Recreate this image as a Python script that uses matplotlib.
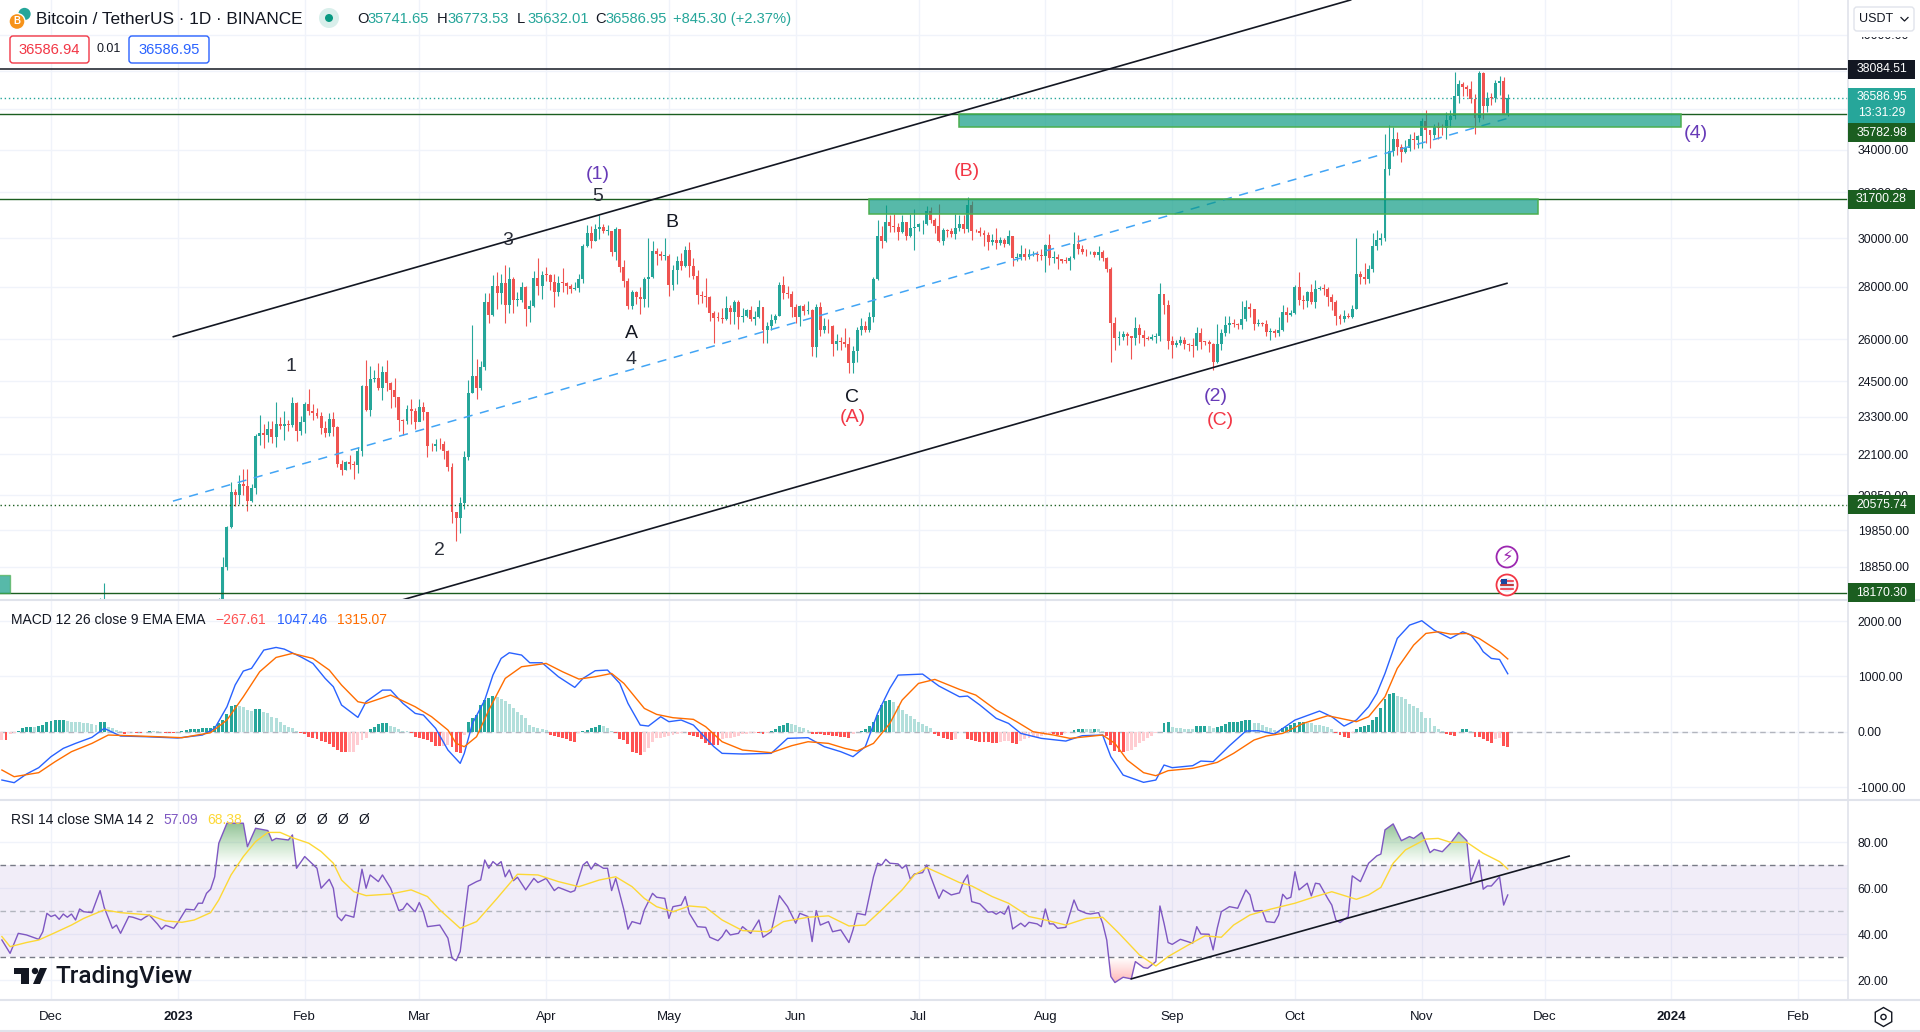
import numpy as np
import pandas as pd
import matplotlib
matplotlib.use('Agg')
import matplotlib.pyplot as plt
from matplotlib.colors import LinearSegmentedColormap
from matplotlib.patches import Rectangle, Circle, FancyBboxPatch, Polygon, RegularPolygon

plt.rcParams['font.family'] = ['Liberation Sans', 'DejaVu Sans']

# days are counted from 1 Dec 2022
month_labels = ['Dec', '2023', 'Feb', 'Mar', 'Apr', 'May', 'Jun', 'Jul', 'Aug', 'Sep', 'Oct', 'Nov', 'Dec', '2024', 'Feb']
month_dates = ['2022-12-01', '2023-01-01', '2023-02-01', '2023-03-01', '2023-04-01', '2023-05-01', '2023-06-01',
               '2023-07-01', '2023-08-01', '2023-09-01', '2023-10-01', '2023-11-01', '2023-12-01', '2024-01-01', '2024-02-01']
price_ticks = [40000, 38000, 36000, 34000, 32000, 30000, 28000, 26000, 24500, 23300, 22100, 20850, 19850, 18850]
macd_ticks = [2000, 1000, 0, -1000]
rsi_ticks = [80, 60, 40, 20]

first_candle = '2023-01-11'
first_open = 17440
closes = [
    17943,18846,19930,20954,20871,21185,21132,20677,21071,22667,22783,22707,22916,22632,23060,23009,23074,23031,23774,22840,23125,
    23732,23488,23431,23327,22932,22762,23240,22963,21796,21625,21862,21783,21773,22199,24324,23517,24569,24631,24271,24839,24451,24188,23947,23198,23157,23554,23492,23141,
    23628,23465,22354,22346,22430,22409,22197,21705,20362,20187,20632,21999,24113,24670,24285,24998,27395,26907,28038,27767,28175,27307,28333,27493,27494,27994,27139,27268,28348,28033,28478,
    28473,28199,27812,28175,28170,28033,27906,27947,28333,29653,30235,29884,30383,30466,30295,30304,29430,30380,28797,28243,27262,27816,27590,27510,28300,28415,29473,29340,29248,29268,
    28091,28680,29026,28838,29506,28848,28430,27668,27628,27599,26968,26804,26788,26768,27164,27033,27405,26822,26890,27102,26747,26849,27226,26334,26476,26719,26868,28085,27745,27702,27220,
    26819,27249,27069,27115,25728,27230,26339,26498,26477,25841,25925,25902,25841,25160,25575,26335,26510,26336,26840,28307,30095,29890,30688,30527,30462,30267,30692,30078,30447,30472,
    30585,30617,31156,30767,30504,29895,30347,30292,30171,30414,30620,30380,31454,30312,30289,30231,30145,29856,29913,29793,29908,29771,30081,29176,29228,29354,29213,29314,29352,29275,29231,
    29705,29186,29193,29113,29042,29041,29180,29765,29561,29429,29397,29415,29283,29408,29170,28701,26622,26049,26096,26189,26124,26041,26431,26163,26047,26004,26089,26106,27727,27297,25931,
    25800,25869,25968,25812,25780,25753,26240,25905,25895,25832,25162,25840,26222,26522,26600,26559,26527,26762,27210,27125,26568,26580,26579,26256,26298,26217,26352,27021,26911,26967,
    27983,27505,27429,27799,27412,27931,27956,27917,27590,27391,26873,26756,26862,26852,27154,28500,28395,28320,28713,29669,29909,29992,33069,33922,34496,34151,33892,34082,34525,34477,34639,
    35421,34938,34732,35082,35049,35037,35443,35655,36693,37313,37138,37054,36502,35537,37880,36154,36596,36568,37359,37448,35741,36586.95,
]
highs = [
    18020,19100,19960,21260,21050,21470,21650,21650,21190,22750,23370,23080,23170,23160,23800,23280,23500,23180,23950,23800,23320,
    23800,24250,23720,23590,23450,23160,23420,23460,22990,21920,21900,22090,21880,22320,24370,25250,25020,24890,25150,25050,25240,24480,24600,23900,23220,23680,23880,23600,
    23880,23780,23470,22440,22590,22600,22530,22240,21820,20360,20790,22190,24550,26550,25270,25220,27760,27750,28470,28590,28500,28880,28800,28400,27800,28200,28040,27500,28650,29180,28650,
    28800,28530,28500,28444,28775,28180,28100,28180,28530,29770,30550,30500,30620,31000,30590,30550,30320,30485,30400,29090,28370,27880,27820,28000,28400,30020,29890,29570,29460,30000,
    29340,28880,29270,29370,29680,29850,29170,28660,27830,28340,27660,27060,27040,27190,27660,27280,27470,27480,27180,27150,27260,27050,27480,27220,26630,26930,26950,28200,28450,28040,27830,
    27350,27300,27340,27450,27130,27350,27400,26800,26770,26530,26200,26100,26430,26070,25760,26470,26780,26700,27020,28400,30800,30500,31430,31000,31060,30650,31000,30700,31030,31280,
    30660,30800,31380,31330,30880,31500,30450,30380,30440,31050,31000,30990,31800,31630,30390,30460,30340,30250,30190,30420,30050,29990,30350,30100,29380,29690,29580,29530,29450,29450,29530,
    29750,30190,29440,29320,29110,29200,29240,30250,30130,29720,29540,29470,29470,29660,29490,29230,28780,26840,26290,26300,26260,26140,26820,26560,26330,26110,26180,26250,28140,27580,27490,
    26120,25990,26120,26100,25880,26040,26440,26430,25950,25980,25880,26560,26400,26860,26890,26770,26620,27430,27480,27380,27150,26740,26640,26730,26420,26390,26820,27300,27220,27090,
    28060,28580,27670,27830,28120,28290,28050,28110,28000,27730,27470,26940,27100,26980,27290,30000,28620,28980,28890,30200,30350,30200,34750,35200,35130,34840,34250,34480,34740,34840,34720,
    35570,35980,34950,35280,35380,35280,35880,35980,37970,37530,37400,37230,37450,36770,38000,37960,36880,36840,37530,37750,37660,36773.53,
]
lows = [
    17320,18270,18750,19900,20550,20610,20850,20380,20660,20900,22400,22290,22500,22450,22330,22900,22540,22850,22970,22530,22720,
    22760,23370,23200,23260,22740,22630,22690,22670,21700,21450,21600,21630,21350,21530,22050,23500,23340,24470,24200,23850,24160,23580,23610,22850,22720,23080,23080,22900,
    23260,23200,22000,22200,22210,22260,21950,21580,20040,19550,19780,20440,21920,24100,23900,24200,24900,26620,26890,27150,27350,26600,27000,27000,27250,27400,26500,26650,27220,27700,27530,
    28240,27870,27200,27660,27800,27730,27760,27880,27800,28170,29620,29600,29870,29970,30220,30120,29260,29090,28610,28000,27120,27130,27320,26940,27200,27230,28370,28880,29080,29080,
    27660,27870,28100,28670,28800,28400,28300,27330,27360,27200,26700,25860,26690,26600,26720,26580,26560,26380,26650,26850,26690,26530,26800,25870,25870,26340,26610,26860,27530,27550,26840,
    26600,26500,26920,26950,25390,25350,26120,26230,26250,25380,25620,25600,25720,24800,24800,25170,26170,26280,26260,26650,28270,29580,29820,30250,30250,29930,30220,29900,30040,29500,
    30320,30170,30580,30640,30200,29830,29700,30040,30060,29950,30290,30200,30250,29900,30250,30080,29660,29520,29730,29560,29720,29640,29710,28860,29040,29100,29100,29120,29250,29030,29100,
    28590,28900,28950,28730,28960,28970,28660,29120,29350,29320,29250,29350,29220,29100,29050,28600,25170,25600,25800,25970,25800,25300,25800,25860,25750,25960,25980,25860,25920,26950,25650,
    25330,25720,25800,25640,25570,25350,25600,25640,25800,25550,24900,25130,25620,26130,26220,26470,26400,26370,26670,26830,26360,26480,26500,26120,25990,26090,26110,26320,26660,26880,
    26950,27280,27150,27210,27340,27170,27860,27700,27260,27110,26540,26560,26650,26810,26800,27120,28100,28100,28170,28600,29480,29700,29880,32800,33690,33730,33400,33860,33930,34050,34060,
    34100,34320,34100,34580,34530,34730,34520,35100,35530,36320,36700,36700,36330,34770,35360,35500,35870,36200,36390,36730,35740,35632.01,
]
# two December 2022 wicks reach up into the pane, the rest of that stretch is below it
early_days = [12, 13]
early_highs = [18040, 18430]

support_tops = [35782.98, 31700.28]
support_bottoms = [35120, 31028]
support_starts = [222, 200]
support_ends = [398.3, 363.3]
old_box = [-13, -10, 18170.30, 18630]

upper_channel_x = [29.9, 317.6]
upper_channel_y = [26096, 42016]
lower_channel_x = [85.7, 355.8]
lower_channel_y = [17980, 28143]
mid_channel_x = [29.8, 356]
mid_channel_y = [20681, 35540]

macd_days = [-12,-9,-6,-3,0,3,6,10,13,17,23,31,37,40,43,45,47,49,52,55,57,61,64,67,69,71,75,77,81,83,86,89,91,94,97,100,101,103,106,108,110,112,115,117,120,124,128,130,133,136,139,141,144,146,149,151,154,157,162,164,169,176,180,185,189,193,196,199,202,205,207,213,217,222,
             224,227,231,234,237,242,248,252,257,259,262,267,270,272,274,279,281,284,288,292,295,299,304,310,313,316,319,322,324,326,329,332,335,338,342,345,347,349,350,352,354,356]
macd_line = [-873,-921,-765,-650,-451,-301,-211,-102,60,-78,-90,-114,-60,60,451,843,1096,1144,1475,1523,1493,1354,1234,963,813,482,259,542,752,752,512,331,301,60,-331,-572,-391,150,572,1023,1324,1427,1385,1246,1246,993,801,963,1102,1114,873,512,120,102,271,181,211,120,-271,-391,-403,-391,-120,-108,-271,-361,-451,-271,331,783,1023,1041,825,632,
             644,482,241,150,-30,-120,-169,-72,-60,-451,-783,-915,-873,-602,-650,-614,-530,-542,-253,12,18,-42,211,373,271,102,211,451,692,1053,1686,1926,2005,1836,1686,1806,1746,1565,1445,1324,1306,1047.46]
signal_days = [-12,-9,-3,1,5,10,14,19,26,32,39,43,47,51,55,59,64,68,71,75,77,83,89,93,97,99,101,104,107,111,115,121,125,129,133,137,140,145,148,152,157,160,164,169,176,181,185,190,194,197,201,205,208,212,216,222,
               226,231,236,240,245,249,257,260,263,267,270,273,279,285,289,294,297,301,306,312,319,322,326,329,333,336,339,342,346,349,354,356]
signal_line = [-692,-813,-740,-542,-361,-211,-60,-72,-90,-108,-18,211,632,1084,1342,1415,1324,1114,843,542,512,662,451,271,30,-211,-271,-90,391,963,1174,1234,1084,951,993,1053,873,421,313,253,223,90,-181,-331,-379,-253,-181,-211,-301,-349,-211,150,572,873,945,765,
               662,391,181,0,-60,-120,-60,-211,-512,-740,-795,-704,-662,-554,-391,-150,-78,-30,150,289,181,271,632,1144,1565,1776,1806,1764,1776,1686,1445,1315.07]
hist_a = [-150,-150,-155,-40,-15,
          15,60,78,90,90,108,120,168,199,210,212,214, 200,181,175,168,163,150,138,130, 175,178, 90,72,30,12,
          -45,-15,-14,-20,-22,-10, 15,10,5, -5,-15,-16,-25,-10,
          15,30,40,50,55,60,65,70, 110,150,210,319,464,482, 470,440,400,380, 409,415,
          361,331,271,240,181,120,90,60,20,
          -15,-45,-90,-110,-130,-160,-181,-220,-271,-330,-367,-370,-368,-360,-240,-150,-110,
          42,90,138,150,155, 110,80,40,20,5,
          -20,-90,-120,-130,-150,-180,-250,-260,-255,-245,-270,-370,-380,-60,
          180,240,300,480,570,610,650, 632,600,554,494,421,361,301,241,120,78,60,42,30,
          -60,-80,-100,-110,-130,-160,-180,-30,
          5,30,60,90,114,100,60,12,
          -30,-130,-150,-222,-361,-391,-421,-360,-300,-180,-120,-119,-100,-78,-60,-45,-30,-10,
          -60,-70,-100,-130,-200,-240,-242,-245,-130,-120,-110,-90,-70,-50,-40,-25,-15,-30,-40,-15,
          5,40,100,130,150,140,125,90,60,35,
          -35,-40,-50,-55,-60,-70,-72,-90,-100,-110,-40,-10,
          15,40,110,180,300,480,560,565,530,470,400,320,280,230,180,140,110,60,
          -40,-80,-110,-140,-150,-130]
hist_b = [-132,-150,-165,-180,-190,-192,-210,-212,-190,-175,-172,-200,-220,-160,-140,-120,-100,-98,-80,-60,-40,-50,-60,-65,-30,-10,
          30,45,46,40,40,45,40,15,
          -70,-240,-340,-370,-375,-340,-330,-270,-210,-170,-120,-80,-20,-10,
          150,170,80,65,60,58,55,52,105,106,107,100,70,85,110,135,170,175,180,190,210,212,160,150,120,90,60,30,10,
          60,90,130,160,170,172,160,150,130,128,110,90,40,
          -30,-60,-100,-120,-30,
          40,80,110,130,210,270,420,600,690,700,650,620,600,500,470,420,360,250,240,110,40,5,
          -40,-55,-70,-5,45,46,20,-100,-102,-130,-160,-210,-130,-110,-250,-267.61]

rsi_days = [-12,-10,-8,-6,-3,-2,-1,0,1,2,3,4,5,6,7,8,10,12,13,15,16,17,19,20,22,23,24,26,27,28,30,31,33,35,36,37,38,39,40,41,43,47,48,50,53,54,55,58,59,60,62,65,66,68,69,70,71,72,74,76,77,78,80,81,83,85,86,87,89,90,91,92,95,97,98,99,100,102,104,105,106,107,108,109,110,111,112,113,114,116,118,119,121,123,124,127,128,130,131,132,133,135,136,137,138,140,141,142,144,145,147,148,150,151,152,154,155,156,158,160,161,163,164,165,166,168,169,171,173,174,176,178,180,182,183,185,186,187,188,190,191,193,195,196,197,199,201,202,203,204,205,207,208,209,210,211,213,214,215,217,218,220,222,
            223,224,225,227,229,230,231,232,233,234,235,237,238,239,241,242,243,244,245,246,248,250,251,253,254,256,257,258,259,260,262,264,265,267,268,270,271,272,273,274,276,279,280,281,283,284,285,286,288,290,292,293,294,296,297,299,300,301,302,303,304,305,307,308,309,310,312,313,314,315,317,318,320,322,324,325,326,328,330,332,333,335,337,338,340,342,344,346,347,349,350,351,352,354,355,356]
rsi_vals = [37.5,31.7,40.4,39.7,37.8,41.1,49.1,47.7,48.4,46.5,48.8,47.4,48.8,46.2,51,49.8,49.4,59,51.7,42.6,44,40.4,47.7,47.4,46.2,47.4,48.4,44.5,42.2,43.9,42.6,45.1,50.9,50.6,53.5,53.5,57.8,59.6,65,79.6,88.3,88.3,78.1,86.1,85.1,80.7,81.7,81,83.2,68.7,73.8,68.7,60,63.9,60,47.7,45.9,48.4,47.4,68.3,60,65.8,62.9,65.8,60,50.3,50.9,53.5,49.8,53.8,49.8,43.3,44,38.3,29.6,28.5,32.5,61,62.9,63.6,72.3,68.7,71.6,70.1,71.6,65,68,63.3,64.8,59.3,64.3,62.5,64.3,59,60.4,58.3,59,70.1,71.6,68.3,70.9,68.7,68.7,59,64.3,50.6,42.2,45.5,44.5,50.6,57.8,56.1,55.6,46.9,52,52.7,56.4,49.1,43.3,43,38.7,37.2,39,41.9,39.7,40.4,43.3,40.4,46.2,38.7,41.1,56.8,52,44.8,49.1,47.7,36.8,50.3,44,45.5,41.1,41.9,36.4,41.9,49.1,48.4,65,70.9,70.1,72.6,70.9,70.6,68.7,70.1,63.9,66.2,66.8,70.1,65,55.6,59.3,57.1,58,
            62.9,65.8,54.2,53.2,49.6,49.8,48.7,49.8,48.7,52.3,42.3,44.8,43.3,45.2,44.5,43.3,51,44.5,44.5,42.6,43,54.9,50.6,49.1,48.8,49.4,44.8,37.5,21.6,19,21.3,20.6,28.1,25.5,25.2,28.1,52.3,44.8,36.4,35.6,37.8,36.1,43.3,40.1,40,33.2,42.6,49.8,52,51.3,59.3,57.1,50.1,50.3,45.5,45.1,48.4,57.4,55.4,56.1,67.2,59.3,62.2,56.7,62.2,61.9,55.6,52.7,46.2,45.1,47.7,65.4,62.9,70.9,74.1,74.9,85.4,88,80.7,82.5,81.7,84.3,75.5,76.9,75.9,79.6,84.3,80.7,62.9,72.3,59.6,61,61,65,52.7,57.09]
sma_days = [-12,-10,-6,-3,1,5,8,13,17,24,28,32,35,39,41,44,47,50,53,56,59,63,66,69,71,74,77,83,88,92,95,100,104,109,114,119,124,129,134,138,142,145,148,152,156,160,164,169,175,179,185,190,195,199,203,208,211,214,218,222,
            225,230,234,239,243,248,253,257,261,266,270,273,278,282,286,289,293,298,304,309,313,319,322,325,328,331,336,339,342,346,350,354,356]
sma_vals = [39,34.6,36.4,37.5,40.7,44,46.9,50.6,49.4,48.4,45.8,45.2,46.2,49.4,54.9,65.8,73.8,80.3,84.3,84.3,82,79.6,76,70.9,63.6,58.5,56.8,57.5,59.3,56.4,50.6,42.6,45.5,55.6,66.1,65.8,62.9,60.7,63.6,65,60.7,55.6,52,49.8,52.3,51.7,46.2,41.6,41.1,45.5,47.4,48,43.6,44,50.6,59.3,65.8,69,65.8,62.5,
            61,56.4,53.5,47.7,46.2,44,46.9,47.4,40.4,31,26.2,30.3,35.4,39.3,38.7,44,48.4,50.9,53.5,56.4,58.5,55.2,57.1,60.4,70.9,76.7,81.4,81.7,80,80,75.2,71.6,68.38]
rsi_trend_x = [264, 371]
rsi_trend_y = [20.6, 74]

UP = '#26a69a'
DOWN = '#ef5350'
GRID = '#f0f3fa'
SEP = '#e0e3eb'
INK = '#131722'
DARKGREEN = '#1b5e20'
RED = '#f23645'
PURPLE = '#673ab7'
W, H = 1920, 1032
AX_R = 1848
AXIS_SIZE = 8.8

base = pd.Timestamp('2022-12-01')
month_days = [(pd.Timestamp(m) - base).days for m in month_dates]
candle_days = np.arange(len(closes)) + (pd.Timestamp(first_candle) - base).days
closes = np.array(closes, dtype=float)
opens = np.r_[first_open, closes[:-1]]
colors = [UP if c >= o else DOWN for o, c in zip(opens, closes)]
x_left = -51 / 4.092
x_right = (AX_R - 51) / 4.092


def make_axes(top, bottom):
    a = fig.add_axes([0, 1 - bottom / H, AX_R / W, (bottom - top) / H])
    a.set_xlim(x_left, x_right)
    a.set_xticks(month_days)
    a.yaxis.tick_right()
    a.tick_params(length=0, labelsize=AXIS_SIZE, labelcolor=INK, pad=7)
    a.tick_params(axis='x', labelbottom=False)
    a.grid(True, color=GRID, lw=1)
    a.set_axisbelow(True)
    for s in a.spines.values():
        s.set_visible(False)
    return a


fig = plt.figure(figsize=(19.2, 10.32), dpi=100, facecolor='white')

# price pane
ax = make_axes(0, 600)
ax.set_yscale('log')
ax.set_ylim(26000 * np.exp((339.3 - 600) / 707), 26000 * np.exp(339.3 / 707))
ax.set_yticks(price_ticks)
ax.set_yticklabels(['%.2f' % t for t in price_ticks])
ax.minorticks_off()
ax.set_xlim(x_left, x_right)

ax.vlines(early_days, 17000, early_highs, color=UP, lw=0.8, zorder=2)
ax.vlines(candle_days, lows, highs, color=colors, lw=0.8, zorder=2)
for d, o, c, col in zip(candle_days, opens, closes, colors):
    lo, hi = min(o, c), max(o, c)
    hi = max(hi, lo * 1.0012)
    ax.add_patch(Rectangle((d - 0.36, lo), 0.72, hi - lo, fc=col, ec='none', zorder=2))

ax.axhline(closes[-1], color=UP, lw=1, ls=(0, (1, 2)), zorder=3)
ax.axhline(20575.74, color=DARKGREEN, lw=1, ls=(0, (1, 2)), zorder=3)
ax.axhline(38084.51, color=INK, lw=1.1, zorder=3)
for lvl in [35782.98, 31700.28, 18170.30]:
    ax.axhline(lvl, color=DARKGREEN, lw=1, zorder=3)

ax.plot(upper_channel_x, upper_channel_y, color=INK, lw=1.2, zorder=4)
ax.plot(lower_channel_x, lower_channel_y, color=INK, lw=1.2, zorder=4)
ax.plot(mid_channel_x, mid_channel_y, color='#42a5f5', lw=1.1, ls=(0, (6, 5)), zorder=4)

for top, bot, x0, x1 in zip(support_tops, support_bottoms, support_starts, support_ends):
    ax.add_patch(Rectangle((x0, bot), x1 - x0, top - bot, fc='#089981', alpha=0.68, ec='none', zorder=5))
    ax.add_patch(Rectangle((x0, bot), x1 - x0, top - bot, fc='none', ec='#4caf50', lw=1.1, zorder=5))
ax.add_patch(Rectangle((old_box[0], old_box[2]), old_box[1] - old_box[0], old_box[3] - old_box[2],
                       fc='#089981', alpha=0.68, ec='#4caf50', lw=1, zorder=5))

# MACD pane
ax2 = make_axes(600, 800)
ax2.set_ylim(-1234, 2380)
ax2.set_yticks(macd_ticks)
ax2.set_yticklabels(['%.2f' % t for t in macd_ticks])
ax2.axhline(0, color='#b2b5be', lw=1, ls=(0, (4, 3)), zorder=1)
hist_days = list(range(-13, -13 + len(hist_a))) + list(range(357 - len(hist_b), 357))
hist_vals = hist_a + hist_b
hist_colors = []
for i, v in enumerate(hist_vals):
    prev = hist_vals[i - 1] if i else v
    if v >= 0:
        hist_colors.append('#26a69a' if v > prev else '#b2dfdb')
    else:
        hist_colors.append('#ff5252' if v < prev else '#ffcdd2')
ax2.bar(hist_days, hist_vals, width=0.72, color=hist_colors, zorder=2)
ax2.plot(macd_days, macd_line, color='#2962ff', lw=1, zorder=3)
ax2.plot(signal_days, signal_line, color='#ff6d00', lw=1, zorder=3)

# RSI pane
ax3 = make_axes(800, 1000)
ax3.set_ylim(11.4, 98.4)
ax3.set_yticks(rsi_ticks)
ax3.set_yticklabels(['%.2f' % t for t in rsi_ticks])
ax3.axhspan(30, 70, color='#7e57c2', alpha=0.1, lw=0, zorder=1)
ax3.axhline(70, color='#787b86', lw=1, ls=(0, (4, 3)), zorder=2)
ax3.axhline(50, color='#b2b5be', lw=1, ls=(0, (4, 3)), zorder=2)
ax3.axhline(30, color='#787b86', lw=1, ls=(0, (4, 3)), zorder=2)

green_fade = LinearSegmentedColormap.from_list('g', [(0.3, 0.69, 0.31, 0.0), (0.22, 0.55, 0.25, 0.6)])
red_fade = LinearSegmentedColormap.from_list('r', [(1, 0.32, 0.32, 0.0), (1, 0.32, 0.32, 0.45)])
rsi_d = np.array(rsi_days, dtype=float)
rsi_v = np.array(rsi_vals, dtype=float)
for where, ref, ext, cmap in [(rsi_v > 70, 70, (x_left, x_right, 70, 90), green_fade),
                              (rsi_v < 30, 30, (x_left, x_right, 30, 18), red_fade)]:
    poly = ax3.fill_between(rsi_d, rsi_v, ref, where=where, interpolate=True, facecolor='none', edgecolor='none')
    for path in poly.get_paths():
        im = ax3.imshow(np.linspace(1, 0, 64).reshape(-1, 1) if ref == 70 else np.linspace(0, 1, 64).reshape(-1, 1),
                        extent=ext, aspect='auto', cmap=cmap, vmin=0, vmax=1, origin='upper' if ref == 70 else 'lower',
                        zorder=2)
        im.set_clip_path(path, transform=ax3.transData)
ax3.set_xlim(x_left, x_right)
ax3.set_ylim(11.4, 98.4)
ax3.plot(rsi_days, rsi_vals, color='#7e57c2', lw=1, zorder=3)
ax3.plot(sma_days, sma_vals, color='#fdd835', lw=1, zorder=3)
ax3.plot(rsi_trend_x, rsi_trend_y, color=INK, lw=1.2, zorder=4)

ax3.tick_params(axis='x', labelbottom=True, labelsize=9.5, pad=8)
ax3.set_xticklabels(month_labels)
for lab in ax3.get_xticklabels():
    if lab.get_text() in ('2023', '2024'):
        lab.set_fontweight('bold')

# overlay in pixel coordinates for the chrome round the panes
ov = fig.add_axes([0, 0, 1, 1], zorder=10)
ov.set_xlim(0, W)
ov.set_ylim(H, 0)
ov.axis('off')
ov.patch.set_alpha(0)


def py(price):
    return H - ax.transData.transform((0, price))[1]


def label(x, y, s, color=INK, size=AXIS_SIZE, ha='left', **kw):
    ov.text(x, y, s, color=color, fontsize=size, ha=ha, va='center', **kw)


ov.plot([AX_R, AX_R], [0, 1000], color=SEP, lw=1.2)
for y in [600, 800, 1000, 1031]:
    ov.plot([0, W], [y, y], color=SEP, lw=1.5)

# price tags, the tag of the support level sits under the last price tag
tag_prices = [38084.51, 31700.28, 20575.74, 18170.30]
tag_colors = [INK, DARKGREEN, DARKGREEN, DARKGREEN]
for price, col in zip(tag_prices, tag_colors):
    y = py(price)
    ov.add_patch(Rectangle((AX_R, y - 9.5), 67, 19, fc=col, ec='none', zorder=3))
    label(1881.5, y, '%.2f' % price, color='white', ha='center', zorder=4)
ov.add_patch(Rectangle((AX_R, 88), 67, 35, fc=UP, ec='none', zorder=3))
label(1881.5, 97.5, '36586.95', color='white', ha='center', zorder=4)
label(1881.5, 113, '13:31:29', color='white', ha='center', zorder=4)
ov.add_patch(Rectangle((AX_R, 123), 67, 19, fc=DARKGREEN, ec='none', zorder=3))
label(1881.5, 132.5, '35782.98', color='white', ha='center', zorder=4)

# currency button hides the top tick
ov.add_patch(Rectangle((AX_R + 1, 0), 72, 37, fc='white', ec='none', zorder=3))
ov.add_patch(FancyBboxPatch((1854, 7), 60, 24, boxstyle='round,pad=0,rounding_size=3', fc='white', ec=SEP, lw=1, zorder=4))
label(1876, 19, 'USDT', zorder=5, ha='center', size=9)
ov.plot([1901, 1904.5, 1908], [17.5, 21, 17.5], color=INK, lw=0.9, zorder=5)

# header
ov.add_patch(Circle((24.5, 14), 7, fc=UP, ec='white', lw=1.2, zorder=3))
ov.add_patch(Circle((17, 21.5), 8, fc='#f7931a', ec='white', lw=1, zorder=4))
label(17, 21.5, 'B', color='white', size=7, ha='center', fontweight='bold', zorder=5)
label(36, 19, 'Bitcoin / TetherUS \u00b7 1D \u00b7 BINANCE', size=12.4)
ov.add_patch(Circle((329, 18), 10, fc='#d9efeb', ec='none'))
ov.add_patch(Circle((329, 18), 4, fc='#089981', ec='none'))
for x, s, col in [(357, 'O', INK), (368, '35741.65', UP), (437, 'H', INK), (448, '36773.53', UP),
                  (517, 'L', INK), (527, '35632.01', UP), (595, 'C', INK), (605, '36586.95', UP),
                  (673, '+845.30 (+2.37%)', UP)]:
    label(x, 19, s, color=col, size=10.6)
ov.add_patch(FancyBboxPatch((10, 36), 79, 27, boxstyle='round,pad=0,rounding_size=3', fc='white', ec=RED, lw=1))
label(49.5, 49.5, '36586.94', color=RED, ha='center', size=10.6)
label(109, 49.5, '0.01', ha='center', size=9)
ov.add_patch(FancyBboxPatch((129, 36), 80, 27, boxstyle='round,pad=0,rounding_size=3', fc='white', ec='#2962ff', lw=1))
label(169, 49.5, '36586.95', color='#2962ff', ha='center', size=10.6)

# wave counts
for x, y, s, col in [(598, 174.5, '(1)', PURPLE), (598, 196.5, '5', '#2a2e39'), (508, 240.5, '3', '#2a2e39'),
                     (291, 366.5, '1', '#2a2e39'), (439, 550.5, '2', '#2a2e39'), (631, 333.5, 'A', INK),
                     (631, 359.5, '4', '#2a2e39'), (672, 222.5, 'B', INK), (852, 397.5, 'C', INK),
                     (852.6, 417.5, '(A)', RED), (967, 171.5, '(B)', RED), (1216, 396.5, '(2)', PURPLE),
                     (1220, 420.5, '(C)', RED), (1695.5, 133.5, '(4)', PURPLE)]:
    label(x, y, s, color=col, size=14, ha='center', zorder=6)

# pane legends
label(11, 620.5, 'MACD 12 26 close 9 EMA EMA', size=10)
label(215.5, 620.5, '\u2212267.61', color='#ff5252', size=10)
label(277, 620.5, '1047.46', color='#2962ff', size=10)
label(337, 620.5, '1315.07', color='#ff6d00', size=10)
label(11, 820, 'RSI 14 close SMA 14 2', size=10)
label(163.5, 820, '57.09', color='#7e57c2', size=10)
label(207, 820, '68.38', color='#fdd835', size=10)
for x in [259, 280, 301, 322, 343, 364]:
    label(x, 820, '\u00d8', size=10, ha='center')

# event markers on the time scale of the price pane
ov.add_patch(Circle((1507, 557), 10.5, fc='white', ec='#9c27b0', lw=1.3, zorder=6))
label(1507, 557, '\u26a1', color='#9c27b0', size=12, ha='center', family='DejaVu Sans', zorder=7)
ov.add_patch(Circle((1507, 585), 10.5, fc='white', ec=RED, lw=1.3, zorder=6))
ov.add_patch(Circle((1507, 585), 7, fc='#e8eaf6', ec='none', zorder=6))
for y, col in [(581, RED), (585, '#b71c1c'), (589, RED)]:
    ov.plot([1501, 1513], [y, y], color=col, lw=1.2, zorder=7)
ov.add_patch(Rectangle((1501, 579), 6, 5, fc='#1a47a0', ec='none', zorder=8))

# watermark
ov.add_patch(Polygon([(14, 968), (29, 968), (29, 984), (21, 984), (21, 974), (14, 974)], fc=INK, ec='none'))
ov.add_patch(Circle((35, 971), 3.2, fc=INK, ec='none'))
ov.add_patch(Polygon([(40, 968), (47, 968), (40, 984), (33, 984)], fc=INK, ec='none'))
label(56, 976.5, 'TradingView', size=17.6, family='Roboto', fontweight='medium')

# settings icon
ov.add_patch(RegularPolygon((1883.5, 1017), 6, radius=9.5, fc='none', ec=INK, lw=1))
ov.add_patch(Circle((1883.5, 1017), 2.6, fc='none', ec=INK, lw=1))

fig.savefig('out.png', dpi=100, facecolor='white')
